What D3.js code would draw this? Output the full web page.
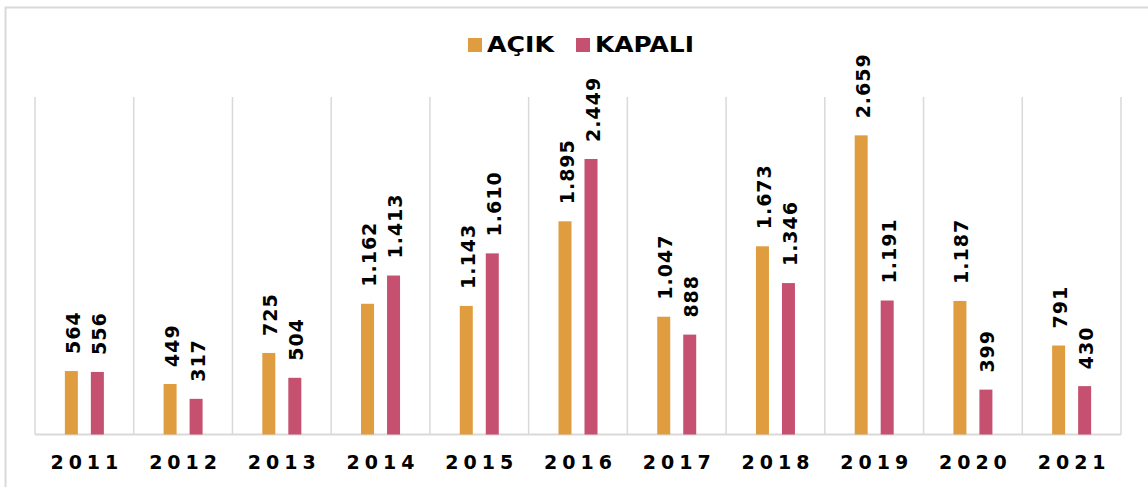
<!DOCTYPE html>
<html>
<head>
<meta charset="utf-8">
<script src="https://cdn.jsdelivr.net/npm/d3@7"></script>
<style>
  body { margin: 0; background: #fff; }
  text { font-family: Verdana, "DejaVu Sans", sans-serif; font-weight: bold; }
</style>
</head>
<body>
<div id="chart"></div>
<script>
// data
const years = ['2011', '2012', '2013', '2014', '2015', '2016', '2017', '2018', '2019', '2020', '2021'];
const acik = [564, 449, 725, 1162, 1143, 1895, 1047, 1673, 2659, 1187, 791];
const kapali = [556, 317, 504, 1413, 1610, 2449, 888, 1346, 1191, 399, 430];
const seriesNames = ['AÇIK', 'KAPALI'];
const colors = ['#E09D3F', '#C5506F'];

const width = 1148, height = 487;
const plot = { left: 35, right: 1121, top: 97, bottom: 434.5 };

const svg = d3.select('#chart')
    .append('svg')
    .attr('width', width)
    .attr('height', height);

// outer frame (top + left edges visible)
svg.append('path')
    .attr('d', `M5.5,${height} V7.5 H${width}`)
    .attr('fill', 'none')
    .attr('stroke', '#d9d9d9')
    .attr('stroke-width', 2);

const x = d3.scaleBand()
    .domain(years)
    .range([plot.left, plot.right])
    .padding(0);

const xSeries = d3.scaleBand()
    .domain(seriesNames)
    .range([-19.5, 19.5])
    .paddingInner(0.5)
    .paddingOuter(0);

const y = d3.scaleLinear()
    .domain([0, 3000])
    .range([plot.bottom, plot.top]);

// vertical separators between categories
const bounds = years.map(d => x(d)).concat([plot.right]);
svg.append('g')
    .selectAll('line')
    .data(bounds)
    .join('line')
    .attr('x1', d => d)
    .attr('x2', d => d)
    .attr('y1', plot.top)
    .attr('y2', plot.bottom)
    .attr('stroke', '#d9d9d9')
    .attr('stroke-width', 1.5);

// bottom axis line
svg.append('line')
    .attr('x1', plot.left)
    .attr('x2', plot.right)
    .attr('y1', plot.bottom)
    .attr('y2', plot.bottom)
    .attr('stroke', '#d9d9d9')
    .attr('stroke-width', 2);

const rows = [];
years.forEach((yr, i) => {
    rows.push({ year: yr, series: seriesNames[0], value: acik[i], color: colors[0] });
    rows.push({ year: yr, series: seriesNames[1], value: kapali[i], color: colors[1] });
});

const fmt = v => d3.format(',')(v).replace(/,/g, '.');

const barX = d => x(d.year) + x.bandwidth() / 2 + xSeries(d.series);

svg.append('g')
    .selectAll('rect')
    .data(rows)
    .join('rect')
    .attr('x', barX)
    .attr('y', d => y(d.value))
    .attr('width', xSeries.bandwidth())
    .attr('height', d => plot.bottom - y(d.value))
    .attr('fill', d => d.color);

// rotated value labels
svg.append('g')
    .selectAll('text')
    .data(rows)
    .join('text')
    .attr('transform', d => `translate(${barX(d) + xSeries.bandwidth() / 2 + 8.5},${y(d.value) - 17}) rotate(-90)`)
    .attr('text-anchor', 'start')
    .attr('fill', '#000')
    .style('font-size', '19px')
    .style('letter-spacing', '1px')
    .text(d => fmt(d.value));

// year labels
svg.append('g')
    .selectAll('text')
    .data(years)
    .join('text')
    .attr('x', d => x(d) + x.bandwidth() / 2 + 2.5)
    .attr('y', 469)
    .attr('text-anchor', 'middle')
    .attr('fill', '#000')
    .style('font-size', '19px')
    .style('letter-spacing', '5px')
    .text(d => d);

// legend
const legend = svg.append('g');
const legendX = [468, 576];
const legendLen = [67, 99];
seriesNames.forEach((name, i) => {
    legend.append('rect')
        .attr('x', legendX[i])
        .attr('y', 38)
        .attr('width', 14)
        .attr('height', 14)
        .attr('fill', colors[i]);
    legend.append('text')
        .attr('x', legendX[i] + 19)
        .attr('y', 52)
        .attr('fill', '#000')
        .attr('textLength', legendLen[i])
        .attr('lengthAdjust', 'spacingAndGlyphs')
        .style('font-size', '21px')
        .text(name);
});
</script>
</body>
</html>
